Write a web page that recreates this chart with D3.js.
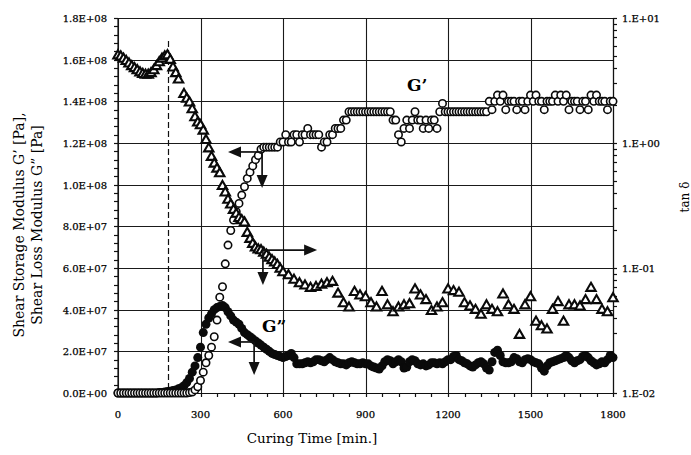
<!DOCTYPE html>
<html>
<head>
<meta charset="utf-8">
<script src="https://cdn.jsdelivr.net/npm/d3@7"></script>
<style>
  body { margin: 0; background: #fff; }
  text { font-family: "DejaVu Serif", "Liberation Serif", serif; fill: #000; }
</style>
</head>
<body>
<svg id="chart" width="691" height="455"></svg>
<script>
// sampling instants, minutes
const sampleTime = d3.range(0, 1801, 10);

// G'' loss modulus, units of 1E7 Pa (one row = 100 min)
const gLoss = [
  0, 0, 0, 0, 0, 0, 0, 0, 0, 0,
  0, 0, 0, 0, 0, 0.02, 0.03, 0.05, 0.07, 0.09,
  0.12, 0.15, 0.2, 0.25, 0.35, 0.5, 0.7, 1.0, 1.3, 1.7,
  2.2, 2.9, 3.3, 3.6, 3.8, 4.0, 4.1, 4.15, 4.2, 4.1,
  3.9, 3.7, 3.5, 3.4, 3.3, 3.1, 2.9, 2.8, 2.7, 2.6,
  2.5, 2.4, 2.3, 2.2, 2.1, 2.0, 1.9, 1.85, 1.8, 1.75,
  1.7, 1.75, 1.8, 1.9, 1.7, 1.4, 1.4, 1.4, 1.45, 1.5,
  1.45, 1.5, 1.6, 1.6, 1.55, 1.5, 1.6, 1.7, 1.6, 1.5,
  1.45, 1.4, 1.4, 1.35, 1.45, 1.5, 1.45, 1.4, 1.4, 1.45,
  1.4, 1.4, 1.3, 1.25, 1.2, 1.15, 1.3, 1.5, 1.6, 1.55,
  1.4, 1.5, 1.6, 1.5, 1.2, 1.25, 1.5, 1.6, 1.55, 1.4,
  1.35, 1.4, 1.3, 1.35, 1.45, 1.45, 1.4, 1.45, 1.4, 1.5,
  1.6, 1.6, 1.75, 1.8, 1.6, 1.55, 1.45, 1.4, 1.3, 1.25,
  1.35, 1.45, 1.5, 1.4, 1.2, 1.1, 1.5, 1.95, 2.05, 1.8,
  1.5, 1.45, 1.45, 1.5, 1.7, 1.65, 1.5, 1.45, 1.6, 1.65,
  1.6, 1.5, 1.45, 1.4, 1.2, 1.05, 1.3, 1.45, 1.5, 1.55,
  1.6, 1.65, 1.7, 1.8, 1.7, 1.55, 1.45, 1.55, 1.6, 1.75,
  1.8, 1.7, 1.55, 1.45, 1.35, 1.4, 1.5, 1.45, 1.6, 1.8,
  1.7
];

// G' storage modulus, units of 1E7 Pa
const gStorage = [
  0, 0, 0, 0, 0, 0, 0, 0, 0, 0,
  0, 0, 0, 0, 0, 0, 0, 0, 0, 0,
  0, 0, 0, 0, 0, 0, 0.02, 0.05, 0.15, 0.3,
  0.6, 1.0, 1.45, 1.8, 2.2, 2.7, 3.5, 4.6, 5.1, 6.2,
  7.1, 7.8, 8.3, 8.7, 9.1, 9.5, 9.9, 10.3, 10.6, 10.9,
  11.2, 11.4, 11.7, 11.8, 11.8, 11.8, 11.8, 11.8, 11.8, 12.05,
  12.05, 12.4, 12.05, 12.05, 12.4, 12.4, 12.05, 12.4, 12.4, 12.7,
  12.4, 12.4, 12.4, 12.4, 11.8, 12.05, 12.05, 12.4, 12.4, 12.7,
  12.7, 12.7, 13.1, 13.1, 13.5, 13.5, 13.5, 13.5, 13.5, 13.5,
  13.5, 13.5, 13.5, 13.5, 13.5, 13.5, 13.5, 13.5, 13.5, 13.5,
  13.1, 13.1, 12.4, 12.05, 12.7, 13.1, 12.7, 13.1, 13.5, 13.1,
  13.1, 12.7, 13.1, 12.7, 13.1, 13.1, 12.7, 13.5, 13.9, 13.5,
  13.5, 13.5, 13.5, 13.5, 13.5, 13.5, 13.5, 13.5, 13.5, 13.5,
  13.5, 13.5, 13.5, 13.5, 13.5, 14.0, 13.6, 14.0, 14.3, 14.0,
  14.3, 13.6, 14.0, 14.0, 14.0, 13.6, 14.0, 14.0, 13.6, 14.0,
  14.3, 14.0, 14.3, 14.0, 14.0, 13.6, 14.0, 14.0, 14.0, 14.3,
  14.0, 14.3, 14.0, 14.3, 13.6, 14.0, 14.0, 14.0, 13.6, 14.0,
  14.0, 13.6, 14.3, 14.0, 14.3, 14.0, 14.0, 14.0, 13.6, 14.0,
  14.0
];

// tan delta, 10 min spacing to 600 min then 20 min spacing
const tanTime = d3.range(0, 601, 10).concat(d3.range(620, 1801, 20));
const tanDelta = [
  5.0, 4.9, 4.7, 4.5, 4.3, 4.1, 3.95, 3.8, 3.65, 3.55,
  3.5, 3.5, 3.6, 3.8, 4.1, 4.4, 4.7, 4.9, 5.0, 4.6,
  4.0, 3.6, 3.2, null, 2.45, 2.25, 2.1, 1.85, 1.6, 1.45,
  1.38, 1.25, 1.05, 0.9, 0.77, 0.68, 0.62, 0.57, 0.45, 0.40,
  0.35, 0.32, 0.29, 0.27, 0.25, 0.24, 0.23, 0.19, 0.17, 0.155,
  0.145, 0.14, 0.138, 0.132, 0.127, 0.12, 0.115, 0.11, 0.105, 0.098,
  0.092,
  0.087, 0.08, 0.075, 0.072, 0.069, 0.07, 0.073, 0.075, 0.077, 0.062,
  0.052, 0.048, 0.064, 0.06, 0.058, 0.052, 0.048, 0.064, 0.05, 0.044,
  0.048, 0.05, 0.051, 0.067, 0.06, 0.055, 0.045, 0.048, 0.052, 0.067,
  0.065, 0.063, 0.052, 0.049, 0.046, 0.042, 0.05, 0.046, 0.044, 0.061,
  0.05, 0.046, 0.029, 0.05, 0.058, 0.037, 0.034, 0.032, 0.046, 0.053,
  0.037, 0.05, 0.05, 0.049, 0.055, 0.069, 0.055, 0.046, 0.044, 0.057
];

const xTicks = [0, 300, 600, 900, 1200, 1500, 1800];
const leftTicks = [0, 2e7, 4e7, 6e7, 8e7, 1e8, 1.2e8, 1.4e8, 1.6e8, 1.8e8];
const leftTickLabels = ["0.0E+00", "2.0E+07", "4.0E+07", "6.0E+07", "8.0E+07",
  "1.0E+08", "1.2E+08", "1.4E+08", "1.6E+08", "1.8E+08"];
const rightTicks = [0.01, 0.1, 1, 10];
const rightTickLabels = ["1.E-02", "1.E-01", "1.E+00", "1.E+01"];

/* ---------- scales ---------- */
const svg = d3.select("#chart");
const x = d3.scaleLinear().domain([0, 1800]).range([118, 613]);
const yL = d3.scaleLinear().domain([0, 1.8e8]).range([393, 18]);
const yR = d3.scaleLog().domain([0.01, 10]).range([393, 18]);

/* ---------- grid ---------- */
const grid = svg.append("g").attr("stroke", "#1a1a1a").attr("stroke-width", 1.1);
grid.selectAll(".h").data(leftTicks).enter().append("line")
  .attr("x1", x(0)).attr("x2", x(1800))
  .attr("y1", d => Math.round(yL(d)) + 0.5).attr("y2", d => Math.round(yL(d)) + 0.5);
grid.selectAll(".v").data(xTicks).enter().append("line")
  .attr("x1", d => Math.round(x(d)) + 0.5).attr("x2", d => Math.round(x(d)) + 0.5)
  .attr("y1", yL(0)).attr("y2", yL(1.8e8));

// dashed marker at 180 min
svg.append("line")
  .attr("x1", Math.round(x(180)) + 0.5).attr("x2", Math.round(x(180)) + 0.5)
  .attr("y1", yL(1.69e8)).attr("y2", yL(0))
  .attr("stroke", "#111").attr("stroke-width", 1.2)
  .attr("stroke-dasharray", "6,3");

/* ---------- axes ---------- */
const axisG = svg.append("g").attr("stroke", "#111").attr("stroke-width", 1.2);
// left axis minor/major ticks (outward)
axisG.selectAll(".lt").data(d3.range(0, 1.8e8 + 1, 4e6)).enter().append("line")
  .attr("x1", x(0) - 4).attr("x2", x(0))
  .attr("y1", d => Math.round(yL(d)) + 0.5).attr("y2", d => Math.round(yL(d)) + 0.5);
// bottom minor ticks
axisG.selectAll(".bt").data(d3.range(0, 1801, 60)).enter().append("line")
  .attr("x1", d => Math.round(x(d)) + 0.5).attr("x2", d => Math.round(x(d)) + 0.5)
  .attr("y1", yL(0)).attr("y2", yL(0) + 4);
// right log ticks
const rMinor = [];
[0.01, 0.1, 1].forEach(dec => { for (let k = 1; k <= 9; k++) rMinor.push(dec * k); });
rMinor.push(10);
axisG.selectAll(".rt").data(rMinor).enter().append("line")
  .attr("x1", x(1800)).attr("x2", x(1800) + 4)
  .attr("y1", d => Math.round(yR(d)) + 0.5).attr("y2", d => Math.round(yR(d)) + 0.5);
// frame lines
axisG.append("line").attr("x1", x(0)).attr("x2", x(0)).attr("y1", yL(0)).attr("y2", yL(1.8e8));
axisG.append("line").attr("x1", x(1800) + 0.5).attr("x2", x(1800) + 0.5).attr("y1", yL(0)).attr("y2", yL(1.8e8));
axisG.append("line").attr("x1", x(0)).attr("x2", x(1800)).attr("y1", yL(0) + 0.5).attr("y2", yL(0) + 0.5);

/* ---------- tick labels ---------- */
svg.selectAll(".ll").data(leftTicks).enter().append("text")
  .attr("x", 107).attr("y", d => yL(d) + 4)
  .attr("text-anchor", "end").attr("font-size", 10)
  .attr("stroke", "#000").attr("stroke-width", 0.25)
  .text((d, i) => leftTickLabels[i]);
svg.selectAll(".rl").data(rightTicks).enter().append("text")
  .attr("x", 622).attr("y", d => yR(d) + 4)
  .attr("font-size", 10)
  .attr("stroke", "#000").attr("stroke-width", 0.25)
  .text((d, i) => rightTickLabels[i]);
svg.selectAll(".xl").data(xTicks).enter().append("text")
  .attr("x", d => x(d)).attr("y", 418)
  .attr("text-anchor", "middle").attr("font-size", 10)
  .attr("stroke", "#000").attr("stroke-width", 0.25)
  .text(d => d);

/* ---------- titles ---------- */
svg.append("text").attr("x", 312).attr("y", 443).attr("text-anchor", "middle")
  .attr("font-size", 13.5).text("Curing Time [min.]");
svg.append("text").attr("transform", "translate(24,225) rotate(-90)")
  .attr("text-anchor", "middle").attr("font-size", 14)
  .text("Shear Storage Modulus G\u2019 [Pa],");
svg.append("text").attr("transform", "translate(42,225) rotate(-90)")
  .attr("text-anchor", "middle").attr("font-size", 14)
  .text("Shear Loss Modulus G\u201d [Pa]");
svg.append("text").attr("transform", "translate(689,197) rotate(-90)")
  .attr("text-anchor", "middle").attr("font-size", 12)
  .text("tan \u03b4");

/* ---------- data ---------- */
const lossPts = sampleTime.map((t, i) => ({ t, v: gLoss[i] * 1e7 }));
const storPts = sampleTime.map((t, i) => ({ t, v: gStorage[i] * 1e7 }));
const tanPts = tanTime.map((t, i) => ({ t, v: tanDelta[i] })).filter(d => d.v != null);

svg.append("g").selectAll("circle").data(lossPts).enter().append("circle")
  .attr("cx", d => x(d.t)).attr("cy", d => yL(d.v)).attr("r", 4.5)
  .attr("fill", "#0a0a0a");

svg.append("g").selectAll("circle").data(storPts).enter().append("circle")
  .attr("cx", d => x(d.t)).attr("cy", d => yL(d.v)).attr("r", 3.7)
  .attr("fill", "#fff").attr("stroke", "#0a0a0a").attr("stroke-width", 1.6);

const tri = d3.symbol().type(d3.symbolTriangle).size(38);
svg.append("g").selectAll("path").data(tanPts).enter().append("path")
  .attr("d", tri)
  .attr("transform", d => `translate(${x(d.t)},${yR(d.v)})`)
  .attr("fill", "#fff").attr("stroke", "#0a0a0a").attr("stroke-width", 2.1)
  .attr("stroke-linejoin", "miter");

/* ---------- annotations ---------- */
const ann = svg.append("g").attr("stroke", "#111").attr("stroke-width", 1.7).attr("fill", "#111");
function arrowHead(px, py, dir) {
  // dir: "left" | "right" | "down"
  const L = 13, W = 5.5;
  let pts;
  if (dir === "left") pts = [[px, py], [px + L, py - W], [px + L, py + W]];
  else if (dir === "right") pts = [[px, py], [px - L, py - W], [px - L, py + W]];
  else pts = [[px, py], [px - W, py - L], [px + W, py - L]];
  ann.append("path").attr("d", d3.line()(pts) + "Z").attr("stroke", "none");
}
function hLine(x1, x2, y) { ann.append("line").attr("x1", x1).attr("x2", x2).attr("y1", y).attr("y2", y); }
function vLine(xx, y1, y2) { ann.append("line").attr("x1", xx).attr("x2", xx).attr("y1", y1).attr("y2", y2); }

// G' arrows
hLine(x(400) + 8, x(524), yL(1.157e8));
arrowHead(x(400), yL(1.157e8), "left");
vLine(x(524), yL(1.157e8), yL(0.984e8) - 8);
arrowHead(x(524), yL(0.984e8), "down");
// tan delta arrows
hLine(x(527), x(724) - 8, yL(6.86e7));
arrowHead(x(724), yL(6.86e7), "right");
vLine(x(527), yL(6.86e7), yL(5.18e7) - 8);
arrowHead(x(527), yL(5.18e7), "down");
// G'' arrows
hLine(x(400) + 8, x(495), yL(2.45e7));
arrowHead(x(400), yL(2.45e7), "left");
vLine(x(495), yL(2.45e7), yL(0.86e7) - 8);
arrowHead(x(495), yL(0.86e7), "down");

svg.append("text").attr("x", x(1051)).attr("y", yL(1.45e8))
  .attr("font-size", 17).attr("font-weight", "bold").text("G\u2019");
svg.append("text").attr("x", x(524)).attr("y", yL(2.93e7))
  .attr("font-size", 17).attr("font-weight", "bold").text("G\u201d");
</script>
</body>
</html>
